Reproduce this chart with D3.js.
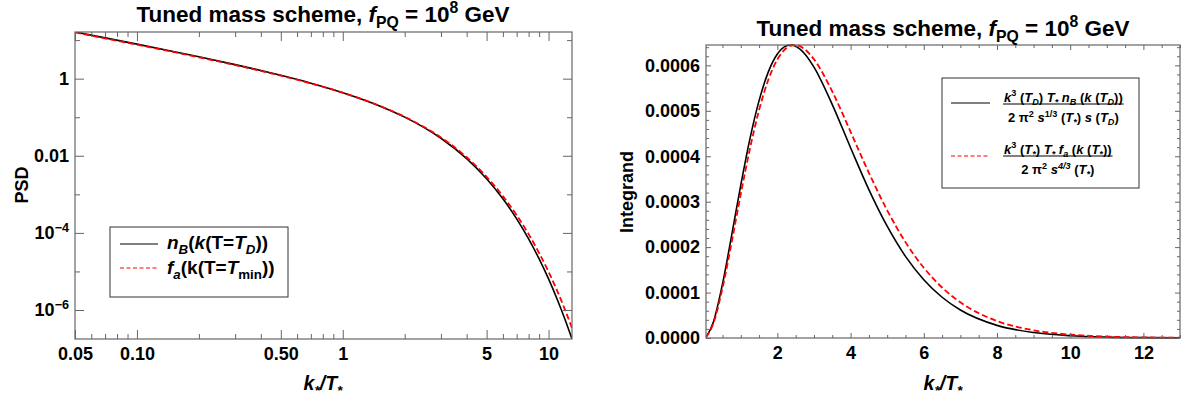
<!DOCTYPE html>
<html lang="en">
<head>
    <meta charset="UTF-8">
    <title>Tuned mass scheme</title>
    <style>
        *{
            margin: 0;
            padding: 0;
        }
        body{
            background: #fff;
        }
        svg text{
            font-family: "Liberation Sans", Arial, Helvetica, sans-serif;
            font-weight: bold;
            fill: #000;
        }
    </style>
</head>
<body>
<div id="chart"></div>
<script src="https://cdnjs.cloudflare.com/ajax/libs/d3/7.8.5/d3.min.js"></script>
<script>
    /* left panel: phase space density on log axes */
    var kGrid = [0.05, 0.07, 0.1, 0.15, 0.2, 0.3, 0.4, 0.5, 0.7, 1, 1.5, 2, 2.5, 3, 4, 5, 6, 7, 8, 9, 10, 11, 12, 13];
    var psdNB = [16.23, 11.45, 7.871, 5.089, 3.700, 2.317, 1.630, 1.2218, 0.7635, 0.4335, 0.19945, 0.10064, 0.05295,
        0.02844, 0.008432, 0.002535, 7.653e-4, 2.314e-4, 6.995e-5, 2.115e-5, 6.394e-6, 1.934e-6, 5.85e-7, 1.770e-7];
    var psdFa = [15.9, 11.1, 7.62, 4.93, 3.59, 2.25, 1.585, 1.195, 0.752, 0.432, 0.2005, 0.1025, 0.0548,
        0.0298, 0.00915, 0.00284, 9.0e-4, 2.88e-4, 9.3e-5, 3.0e-5, 9.8e-6, 3.2e-6, 1.04e-6, 3.4e-7];

    /* right panel: integrand on linear axes */
    var kLin = [0.05, 0.25, 0.5, 0.75, 1, 1.25, 1.5, 1.75, 2, 2.25, 2.375, 2.5, 2.75, 3, 3.5, 4, 4.5, 5, 5.5, 6, 6.5,
        7, 8, 9, 10, 11, 12, 13];
    var intNB = [1.57e-6, 3.48e-5, 1.185e-4, 2.254e-4, 3.364e-4, 4.382e-4, 5.224e-4, 5.851e-4, 6.249e-4, 6.431e-4,
        6.448e-4, 6.421e-4, 6.252e-4, 5.960e-4, 5.137e-4, 4.188e-4, 3.267e-4, 2.460e-4, 1.796e-4, 1.283e-4, 8.967e-5,
        6.160e-5, 2.779e-5, 1.197e-5, 4.962e-6, 1.998e-6, 7.85e-7, 3.02e-7];
    var intFa = [1.436e-6, 3.193e-5, 1.096e-4, 2.103e-4, 3.167e-4, 4.164e-4, 5.015e-4, 5.677e-4, 6.130e-4, 6.382e-4,
        6.436e-4, 6.448e-4, 6.354e-4, 6.133e-4, 5.424e-4, 4.538e-4, 3.635e-4, 2.810e-4, 2.110e-4, 1.547e-4, 1.111e-4,
        7.846e-5, 3.737e-5, 1.699e-5, 7.437e-6, 3.160e-6, 1.310e-6, 5.32e-7];

    /* tick values and labels */
    var xLogMajor = [0.05, 0.1, 0.5, 1, 5, 10];
    var xLogLabels = ["0.05", "0.10", "0.50", "1", "5", "10"];
    var xLogMinor = [0.06, 0.07, 0.08, 0.09, 0.2, 0.3, 0.4, 0.6, 0.7, 0.8, 0.9, 2, 3, 4, 6, 7, 8, 9];
    var yLogMajor = [1, 0.01, 1e-4, 1e-6];
    var yLogLabels = ["1", "0.01", "10^\u22124", "10^\u22126"];
    var yLogMinor = [10, 0.1, 1e-3, 1e-5];
    var xLinMajor = [2, 4, 6, 8, 10, 12];
    var yLinMajor = [0, 0.0001, 0.0002, 0.0003, 0.0004, 0.0005, 0.0006];

    var W = 1186, H = 402;
    var frameColor = "#666";
    var fs = 18;

    var svg = d3.select("#chart").append("svg")
        .attr("width", W)
        .attr("height", H);
    svg.append("rect").attr("width", W).attr("height", H).attr("fill", "#fff");

    /* text with italic / sub / sup pieces; flags: i = italic, b = subscript, p = superscript */
    function rich(t, parts, size) {
        var shift = 0;
        parts.forEach(function (p) {
            var f = p[1] || "";
            var want = f.indexOf("b") >= 0 ? 0.25 * size : (f.indexOf("p") >= 0 ? -0.42 * size : 0);
            var s = t.append("tspan").text(p[0]);
            if (want !== shift) s.attr("dy", want - shift);
            shift = want;
            if (f.indexOf("i") >= 0) s.attr("font-style", "italic");
            if (f.indexOf("b") >= 0 || f.indexOf("p") >= 0) s.attr("font-size", size * 0.7);
        });
        return t;
    }

    function frameAxes(g, x, y, o) {
        var x0 = x.range()[0], x1 = x.range()[1], y0 = y.range()[0], y1 = y.range()[1];
        var ax = [
            [d3.axisBottom(x).tickValues(o.xMaj).tickSize(-o.maj).tickPadding(8).tickFormat(o.xFmt), y0],
            [d3.axisBottom(x).tickValues(o.xMin).tickSize(-o.min).tickFormat(""), y0],
            [d3.axisTop(x).tickValues(o.xMaj).tickSize(-o.maj).tickFormat(""), y1],
            [d3.axisTop(x).tickValues(o.xMin).tickSize(-o.min).tickFormat(""), y1]
        ];
        ax.forEach(function (a) {
            g.append("g").attr("class", "axis").attr("transform", "translate(0," + a[1] + ")").call(a[0]);
        });
        var ay = [
            [d3.axisLeft(y).tickValues(o.yMaj).tickSize(-o.maj).tickPadding(6).tickFormat(o.yFmt), x0],
            [d3.axisLeft(y).tickValues(o.yMin).tickSize(-o.min).tickFormat(""), x0],
            [d3.axisRight(y).tickValues(o.yMaj).tickSize(-o.maj).tickFormat(""), x1],
            [d3.axisRight(y).tickValues(o.yMin).tickSize(-o.min).tickFormat(""), x1]
        ];
        ay.forEach(function (a) {
            g.append("g").attr("class", "axis").attr("transform", "translate(" + a[1] + ",0)").call(a[0]);
        });
        g.selectAll(".axis .domain").remove();
        g.selectAll(".axis line").attr("stroke", frameColor).attr("stroke-width", 1);
        g.selectAll(".axis text")
            .attr("font-size", fs)
            .attr("font-family", "'Liberation Sans', Arial, sans-serif")
            .attr("fill", "#000");
        g.append("rect")
            .attr("x", x0).attr("y", y1)
            .attr("width", x1 - x0).attr("height", y0 - y1)
            .attr("fill", "none").attr("stroke", frameColor).attr("stroke-width", 1.2);
    }

    function title(cx, by) {
        var t = svg.append("text").attr("x", cx).attr("y", by)
            .attr("text-anchor", "middle").attr("font-size", 22.5);
        rich(t, [["Tuned mass scheme, ", ""], ["f", "i"], ["PQ", "b"], [" = 10", ""], ["8", "p"], [" GeV", ""]], 22.5);
    }

    function xLabel(cx, by) {
        var t = svg.append("text").attr("x", cx).attr("y", by)
            .attr("text-anchor", "middle").attr("font-size", 19.5);
        rich(t, [["k", "i"], ["*", "ib"], ["/", "i"], ["T", "i"], ["*", "ib"]], 19.5);
    }

    /* ---------- left panel ---------- */
    var xL = d3.scaleLog().domain([d3.min(kGrid), d3.max(kGrid)]).range([75, 572]);
    var yL = d3.scaleLog().domain([d3.min(psdNB), d3.max(psdNB)]).range([339, 32]);

    var gL = svg.append("g");
    svg.append("clipPath").attr("id", "clipL").append("rect")
        .attr("x", 75).attr("y", 32).attr("width", 497).attr("height", 307);

    var lineL = function (ys) {
        return d3.line()
            .x(function (d) { return xL(d); })
            .y(function (d, i) { return yL(ys[i]); })
            .curve(d3.curveMonotoneX)(kGrid);
    };
    gL.append("path").attr("d", lineL(psdNB)).attr("clip-path", "url(#clipL)")
        .attr("fill", "none").attr("stroke", "#000").attr("stroke-width", 1.6);
    gL.append("path").attr("d", lineL(psdFa)).attr("clip-path", "url(#clipL)")
        .attr("fill", "none").attr("stroke", "#f00").attr("stroke-width", 1.8).attr("stroke-dasharray", "6,3");

    frameAxes(gL, xL, yL, {
        xMaj: xLogMajor, xMin: xLogMinor, yMaj: yLogMajor, yMin: yLogMinor, maj: 9, min: 5,
        xFmt: function (d, i) { return xLogLabels[i]; },
        yFmt: function (d, i) { return yLogLabels[i]; }
    });
    /* turn 10^-n labels into superscripts */
    gL.selectAll(".axis text").each(function () {
        var s = d3.select(this), str = s.text();
        if (str.indexOf("^") < 0) return;
        var bits = str.split("^");
        s.text(bits[0]);
        s.append("tspan").attr("dy", -0.42 * fs).attr("font-size", fs * 0.7).text(bits[1]);
    });

    title(323, 22);
    xLabel(323, 390);
    svg.append("text").attr("transform", "translate(28,185) rotate(-90)")
        .attr("text-anchor", "middle").attr("font-size", fs).text("PSD");

    /* left legend */
    var lfsL = 19;
    var lg = svg.append("g");
    lg.append("rect").attr("x", 110).attr("y", 227).attr("width", 178).attr("height", 70)
        .attr("fill", "#fff").attr("stroke", "#333").attr("stroke-width", 1);
    lg.append("line").attr("x1", 120).attr("x2", 158).attr("y1", 244).attr("y2", 244)
        .attr("stroke", "#000").attr("stroke-width", 1);
    lg.append("line").attr("x1", 120).attr("x2", 158).attr("y1", 268).attr("y2", 268)
        .attr("stroke", "#f00").attr("stroke-width", 1).attr("stroke-dasharray", "4,2.5");
    rich(lg.append("text").attr("x", 167).attr("y", 249).attr("font-size", lfsL),
        [["n", "i"], ["B", "ib"], ["(", ""], ["k", "i"], ["(T=", ""], ["T", "i"], ["D", "ib"], ["))", ""]], lfsL);
    rich(lg.append("text").attr("x", 167).attr("y", 274).attr("font-size", lfsL),
        [["f", "i"], ["a", "ib"], ["(k(T=", ""], ["T", "i"], ["min", "b"], ["))", ""]], lfsL);

    /* ---------- right panel ---------- */
    var xR = d3.scaleLinear().domain([d3.min(kLin), d3.max(kLin)]).range([706, 1180]);
    var yR = d3.scaleLinear().domain([0, d3.max(intNB.concat(intFa))]).range([338, 45]);

    var gR = svg.append("g");
    svg.append("clipPath").attr("id", "clipR").append("rect")
        .attr("x", 706).attr("y", 43).attr("width", 474).attr("height", 296);

    var lineR = function (ys) {
        return d3.line()
            .x(function (d) { return xR(d); })
            .y(function (d, i) { return yR(ys[i]); })
            .curve(d3.curveMonotoneX)(kLin);
    };
    gR.append("path").attr("d", lineR(intNB)).attr("clip-path", "url(#clipR)")
        .attr("fill", "none").attr("stroke", "#000").attr("stroke-width", 1.6);
    gR.append("path").attr("d", lineR(intFa)).attr("clip-path", "url(#clipR)")
        .attr("fill", "none").attr("stroke", "#f00").attr("stroke-width", 1.8).attr("stroke-dasharray", "6,3");

    var xLinMinor = d3.range(0.5, 13.01, 0.5).filter(function (d) { return d % 2 !== 0; });
    var yLinMinor = d3.range(0, 0.000645, 0.00002).filter(function (d) {
        return Math.abs(d / 0.0001 - Math.round(d / 0.0001)) > 1e-6;
    });
    frameAxes(gR, xR, yR, {
        xMaj: xLinMajor, xMin: xLinMinor, yMaj: yLinMajor, yMin: yLinMinor, maj: 5, min: 3,
        xFmt: d3.format("d"), yFmt: d3.format(".4f")
    });

    title(943, 36);
    xLabel(943, 390);
    svg.append("text").attr("transform", "translate(633,192) rotate(-90)")
        .attr("text-anchor", "middle").attr("font-size", fs).text("Integrand");

    /* right legend with fractions */
    var rg = svg.append("g");
    rg.append("rect").attr("x", 942).attr("y", 78).attr("width", 197).attr("height", 110)
        .attr("fill", "#fff").attr("stroke", "#333").attr("stroke-width", 1);
    rg.append("line").attr("x1", 951).attr("x2", 990).attr("y1", 103).attr("y2", 103)
        .attr("stroke", "#000").attr("stroke-width", 1);
    rg.append("line").attr("x1", 951).attr("x2", 990).attr("y1", 156).attr("y2", 156)
        .attr("stroke", "#f00").attr("stroke-width", 1).attr("stroke-dasharray", "4,2.5");

    var lfs = 13;
    function fraction(x0, barY, num, den) {
        var n = rich(rg.append("text").attr("x", x0).attr("y", barY - 2.5).attr("font-size", lfs), num, lfs);
        var w = n.node().getComputedTextLength();
        rg.append("line").attr("x1", x0 - 1).attr("x2", x0 + w + 1).attr("y1", barY).attr("y2", barY)
            .attr("stroke", "#000").attr("stroke-width", 1.2);
        rich(rg.append("text").attr("x", x0 + w / 2).attr("y", barY + 18).attr("text-anchor", "middle")
            .attr("font-size", lfs), den, lfs);
    }
    fraction(1004, 104,
        [["k", "i"], ["3", "p"], [" (", ""], ["T", "i"], ["D", "ib"], [") ", ""], ["T", "i"], ["*", "ib"], [" ", ""],
            ["n", "i"], ["B", "ib"], [" (", ""], ["k", "i"], [" (", ""], ["T", "i"], ["D", "ib"], ["))", ""]],
        [["2 \u03c0", ""], ["2", "p"], [" ", ""], ["s", "i"], ["1/3", "p"], [" (", ""], ["T", "i"], ["*", "ib"],
            [") ", ""], ["s", "i"], [" (", ""], ["T", "i"], ["D", "ib"], [")", ""]]);
    fraction(1004, 156,
        [["k", "i"], ["3", "p"], [" (", ""], ["T", "i"], ["*", "ib"], [") ", ""], ["T", "i"], ["*", "ib"], [" ", ""],
            ["f", "i"], ["a", "ib"], [" (", ""], ["k", "i"], [" (", ""], ["T", "i"], ["*", "ib"], ["))", ""]],
        [["2 \u03c0", ""], ["2", "p"], [" ", ""], ["s", "i"], ["4/3", "ip"], [" (", ""], ["T", "i"], ["*", "ib"],
            [")", ""]]);
</script>
</body>
</html>
